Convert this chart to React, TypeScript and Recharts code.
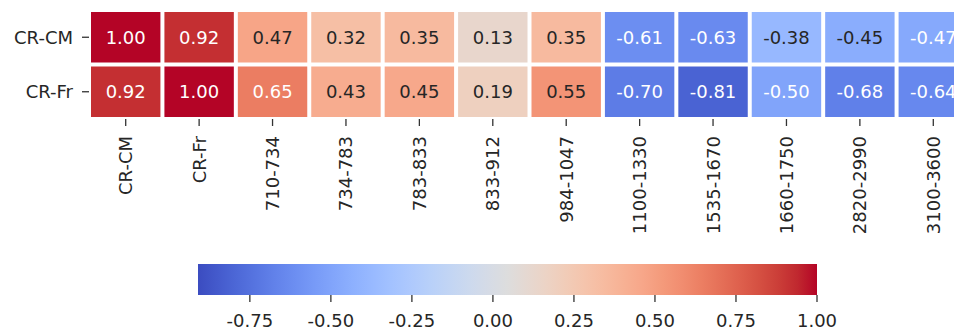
import React from 'react';
import { ScatterChart, Scatter, XAxis, YAxis, BarChart, Bar } from 'recharts';

// ---- data ----
const ROW_LABELS = ['CR-CM', 'CR-Fr'];
const COL_LABELS = [
  'CR-CM', 'CR-Fr', '710-734', '734-783', '783-833', '833-912',
  '984-1047', '1100-1330', '1535-1670', '1660-1750', '2820-2990', '3100-3600',
];
const CR_CM_VALUES = [1.0, 0.92, 0.47, 0.32, 0.35, 0.13, 0.35, -0.61, -0.63, -0.38, -0.45, -0.47];
const CR_FR_VALUES = [0.92, 1.0, 0.65, 0.43, 0.45, 0.19, 0.55, -0.7, -0.81, -0.5, -0.68, -0.64];
const COLOR_MIN = -0.91;
const COLOR_MAX = 1.0;
const COLORBAR_TICKS = [-0.75, -0.5, -0.25, 0, 0.25, 0.5, 0.75, 1.0];

// ---- coolwarm colormap (diverging, blue -> grey -> red) ----
const COOLWARM: [number, number, number][] = [
  [59, 76, 192], [68, 90, 204], [77, 104, 215], [87, 117, 225], [98, 130, 234],
  [108, 142, 241], [119, 154, 247], [130, 165, 251], [141, 176, 254], [152, 185, 255],
  [163, 194, 255], [174, 201, 253], [184, 208, 249], [194, 213, 244], [204, 217, 238],
  [213, 219, 230], [221, 221, 221], [229, 216, 209], [236, 211, 197], [241, 204, 184],
  [245, 196, 172], [247, 187, 160], [247, 177, 148], [247, 166, 137], [244, 154, 123],
  [241, 141, 112], [236, 127, 99], [229, 112, 88], [222, 96, 77], [213, 80, 66],
  [203, 62, 56], [192, 40, 47], [180, 4, 38],
];

function coolwarm(t: number): [number, number, number] {
  const c = Math.min(1, Math.max(0, t)) * (COOLWARM.length - 1);
  const i = Math.min(COOLWARM.length - 2, Math.floor(c));
  const f = c - i;
  const a = COOLWARM[i];
  const b = COOLWARM[i + 1];
  return [a[0] + (b[0] - a[0]) * f, a[1] + (b[1] - a[1]) * f, a[2] + (b[2] - a[2]) * f];
}

const rgbString = (c: [number, number, number]) =>
  `rgb(${Math.round(c[0])},${Math.round(c[1])},${Math.round(c[2])})`;

const colorFor = (v: number) => coolwarm((v - COLOR_MIN) / (COLOR_MAX - COLOR_MIN));

// relative luminance, used to pick dark or light annotation text
function luminance(c: [number, number, number]) {
  const lin = c.map((x) => {
    const s = x / 255;
    return s <= 0.03928 ? s / 12.92 : Math.pow((s + 0.055) / 1.055, 2.4);
  });
  return 0.2126 * lin[0] + 0.7152 * lin[1] + 0.0722 * lin[2];
}

const SERIES = [CR_CM_VALUES, CR_FR_VALUES];
const cells = ROW_LABELS.flatMap((row, r) =>
  SERIES[r].map((value, c) => ({ row, col: COL_LABELS[c], value }))
);
// the colorbar is one floating bar spanning the whole colour range
const colorbarData = [{ name: 'scale', span: [COLOR_MIN, COLOR_MAX] }];

// ---- layout ----
const FONT = '"DejaVu Sans", "Liberation Sans", sans-serif';
const TEXT_DARK = '#262626';
const CHART_W = 970;
const CHART_H = 250;
const MARGIN_TOP = 10;
const Y_AXIS_W = 89;
const X_AXIS_H = 131;
const PLOT_W = CHART_W - Y_AXIS_W;
const PLOT_H = CHART_H - MARGIN_TOP - X_AXIS_H;
const CELL_W = PLOT_W / COL_LABELS.length;
const CELL_H = PLOT_H / ROW_LABELS.length;
const GAP = 4;

const HeatCell = (props: any) => {
  const { cx, cy, payload } = props;
  if (cx == null || cy == null) return null;
  const rgb = colorFor(payload.value);
  const textFill = luminance(rgb) > 0.408 ? TEXT_DARK : '#ffffff';
  return (
    <g>
      <rect
        x={cx - CELL_W / 2 + GAP / 2}
        y={cy - CELL_H / 2 + GAP / 2}
        width={CELL_W - GAP}
        height={CELL_H - GAP}
        fill={rgbString(rgb)}
      />
      <text
        x={cx}
        y={cy}
        textAnchor="middle"
        dominantBaseline="central"
        fontFamily={FONT}
        fontSize={18}
        fill={textFill}
      >
        {payload.value.toFixed(2)}
      </text>
    </g>
  );
};

const ColumnTick = (props: any) => {
  const { x, y, payload } = props;
  const ty = y + 10;
  return (
    <text
      x={x}
      y={ty}
      transform={`rotate(-90, ${x}, ${ty})`}
      textAnchor="end"
      dominantBaseline="central"
      fontFamily={FONT}
      fontSize={18}
      fill={TEXT_DARK}
    >
      {payload.value}
    </text>
  );
};

const RowTick = (props: any) => {
  const { x, y, payload } = props;
  return (
    <text
      x={x - 9}
      y={y}
      textAnchor="end"
      dominantBaseline="central"
      fontFamily={FONT}
      fontSize={18}
      fill={TEXT_DARK}
    >
      {payload.value}
    </text>
  );
};

const ColorbarTick = (props: any) => {
  const { x, y, payload } = props;
  return (
    <text
      x={x}
      y={y + 18}
      textAnchor="middle"
      dominantBaseline="central"
      fontFamily={FONT}
      fontSize={18}
      fill={TEXT_DARK}
    >
      {Number(payload.value).toFixed(2)}
    </text>
  );
};

const GradientBar = (props: any) => {
  const { x, y, width, height } = props;
  if (x == null || width == null) return null;
  return (
    <g>
      <defs>
        <linearGradient id="coolwarm-bar" x1="0" y1="0" x2="1" y2="0">
          {COOLWARM.map((c, i) => (
            <stop key={i} offset={i / (COOLWARM.length - 1)} stopColor={rgbString(c)} />
          ))}
        </linearGradient>
      </defs>
      <rect x={x} y={y} width={width} height={height} fill="url(#coolwarm-bar)" />
    </g>
  );
};

export default function App() {
  return (
    <div
      style={{
        position: 'absolute',
        left: 0,
        top: 0,
        width: 954,
        height: 329,
        overflow: 'hidden',
        background: '#ffffff',
      }}
    >
      <div style={{ position: 'absolute', left: 0, top: 0 }}>
        <ScatterChart
          width={CHART_W}
          height={CHART_H}
          margin={{ top: MARGIN_TOP, right: 0, bottom: 0, left: 0 }}
        >
          <XAxis
            type="category"
            dataKey="col"
            allowDuplicatedCategory={false}
            interval={0}
            height={X_AXIS_H}
            axisLine={false}
            tickSize={7}
            tickMargin={0}
            tickLine={{ stroke: '#333333', strokeWidth: 1.3 }}
            tick={<ColumnTick />}
          />
          <YAxis
            type="category"
            dataKey="row"
            allowDuplicatedCategory={false}
            reversed
            interval={0}
            width={Y_AXIS_W}
            axisLine={false}
            tickSize={7}
            tickMargin={0}
            tickLine={{ stroke: '#333333', strokeWidth: 1.3 }}
            tick={<RowTick />}
          />
          <Scatter data={cells} shape={HeatCell} isAnimationActive={false} />
        </ScatterChart>
      </div>
      <div style={{ position: 'absolute', left: 0, top: 0 }}>
        <BarChart
          layout="vertical"
          width={954}
          height={329}
          data={colorbarData}
          barCategoryGap={0}
          margin={{ top: 264, right: 137, bottom: 0, left: 198 }}
        >
          <XAxis
            type="number"
            domain={[COLOR_MIN, COLOR_MAX]}
            ticks={COLORBAR_TICKS}
            allowDataOverflow
            height={34}
            axisLine={false}
            tickSize={7}
            tickMargin={0}
            tickLine={{ stroke: '#333333', strokeWidth: 1.3 }}
            tick={<ColorbarTick />}
          />
          <YAxis type="category" dataKey="name" hide />
          <Bar dataKey="span" shape={GradientBar} isAnimationActive={false} />
        </BarChart>
      </div>
    </div>
  );
}
